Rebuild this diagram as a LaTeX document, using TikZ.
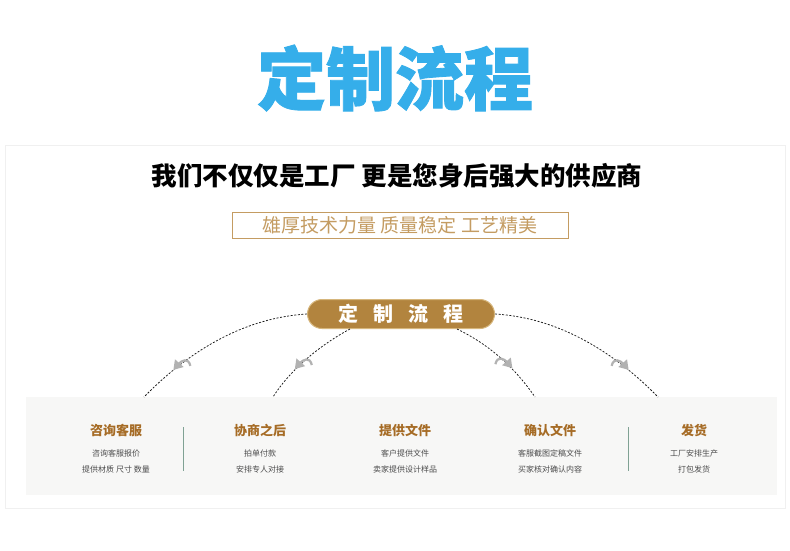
\documentclass[tikz,border=0pt]{standalone}
\usepackage{fontspec}
\setmainfont{Noto Sans CJK SC}
\newfontfamily\heavyfont[BoldFeatures={FakeBold=1.2}]{Noto Sans CJK SC}
\usetikzlibrary{arrows.meta, positioning, calc}
\definecolor{titleblue}{RGB}{53,174,234}
\definecolor{gold}{RGB}{196,156,98}
\definecolor{pillbrown}{RGB}{178,132,62}
\definecolor{pilledge}{RGB}{214,182,124}
\definecolor{stepbrown}{RGB}{166,108,38}
\definecolor{panelgray}{RGB}{247,247,246}
\definecolor{sepgreen}{RGB}{128,162,148}
\tikzstyle{steptitle} = [font=\fontsize{13}{13}\selectfont\bfseries, text=stepbrown, inner sep=0pt]
\tikzstyle{stepitem} = [font=\fontsize{8}{16}\selectfont, text=black!70, inner sep=0pt, align=center]
\tikzstyle{flowline} = [dash pattern=on 2pt off 1.6pt, line width=0.75pt, black!90]
\tikzstyle{curl} = [line width=2.2pt, black!30, -{Triangle[length=9pt,width=11pt]}]
\tikzstyle{divider} = [line width=0.9pt, sepgreen]

\begin{document}
\begin{tikzpicture}[x=1pt, y=-1pt]
\useasboundingbox (0,0) rectangle (790,550);
\draw[black!6, fill=white] (5,145) rectangle (785,508);
\fill[panelgray] (26,397) rectangle (777,495);

\node (title) at (395,78) [font=\heavyfont\fontsize{69}{69}\selectfont\bfseries, text=titleblue] {定制流程};
\node (slogan) at (397,176) [font=\fontsize{25.5}{25.5}\selectfont\bfseries] {我们不仅仅是工厂 更是您身后强大的供应商};
\node (tagline) at (400,225) [draw=gold, line width=0.8pt, minimum width=336pt, minimum height=26pt, inner sep=0pt, text=gold, font=\fontsize{19}{19}\selectfont] {雄厚技术力量 质量稳定 工艺精美};
\node (pill) at (401,314) [rounded corners=14.5pt, fill=pillbrown, draw=pilledge, line width=1pt, minimum width=187pt, minimum height=29pt, inner sep=0pt, text=white, font=\fontsize{20}{20}\selectfont\bfseries] {定\hspace{15pt}制\hspace{15pt}流\hspace{15pt}程};

\node (consult) at (116,430) [steptitle] {咨询客服};
\node (consultinfo) [stepitem, below=13pt of consult] {咨询客服报价\\提供材质 尺寸 数量};
\node (agree) at (260,430) [steptitle] {协商之后};
\node (agreeinfo) [stepitem, below=13pt of agree] {拍单付款\\安排专人对接};
\node (files) at (405,430) [steptitle] {提供文件};
\node (filesinfo) [stepitem, below=13pt of files] {客户提供文件\\卖家提供设计样品};
\node (confirm) at (550,430) [steptitle] {确认文件};
\node (confirminfo) [stepitem, below=13pt of confirm] {客服截图定稿文件\\买家核对确认内容};
\node (ship) at (694,430) [steptitle] {发货};
\node (shipinfo) [stepitem, below=13pt of ship] {工厂安排生产\\打包发货};

\draw [divider] (183,427) -- (183,471);
\draw [divider] (628,427) -- (628,471);

\coordinate (e1) at (144,397);
\coordinate (e2) at (273,397);
\coordinate (e3) at (535,397);
\coordinate (e4) at (658,397);

\draw [flowline] (pill.west) .. controls (240,318) and (185,355) .. coordinate[pos=0.75] (m1) (e1);
\draw [flowline] ([xshift=-51pt]pill.south) .. controls (320,345) and (290,370) .. coordinate[pos=0.6] (m2) (e2);
\draw [flowline] ([xshift=56pt]pill.south) .. controls (490,345) and (515,368) .. coordinate[pos=0.6] (m3) (e3);
\draw [flowline] (pill.east) .. controls (562,318) and (617,355) .. coordinate[pos=0.75] (m4) (e4);

\draw [curl] ($(m1)+(13,-1)$) .. controls ($(m1)+(11,-10)$) and ($(m1)+(4,-6)$) .. ($(m1)+(-4,3)$);
\draw [curl] ($(m2)+(13,-1)$) .. controls ($(m2)+(11,-10)$) and ($(m2)+(4,-6)$) .. ($(m2)+(-4,3)$);
\draw [curl] ($(m3)+(-13,-1)$) .. controls ($(m3)+(-11,-10)$) and ($(m3)+(-4,-6)$) .. ($(m3)+(4,3)$);
\draw [curl] ($(m4)+(-13,-1)$) .. controls ($(m4)+(-11,-10)$) and ($(m4)+(-4,-6)$) .. ($(m4)+(4,3)$);
\end{tikzpicture}
\end{document}
